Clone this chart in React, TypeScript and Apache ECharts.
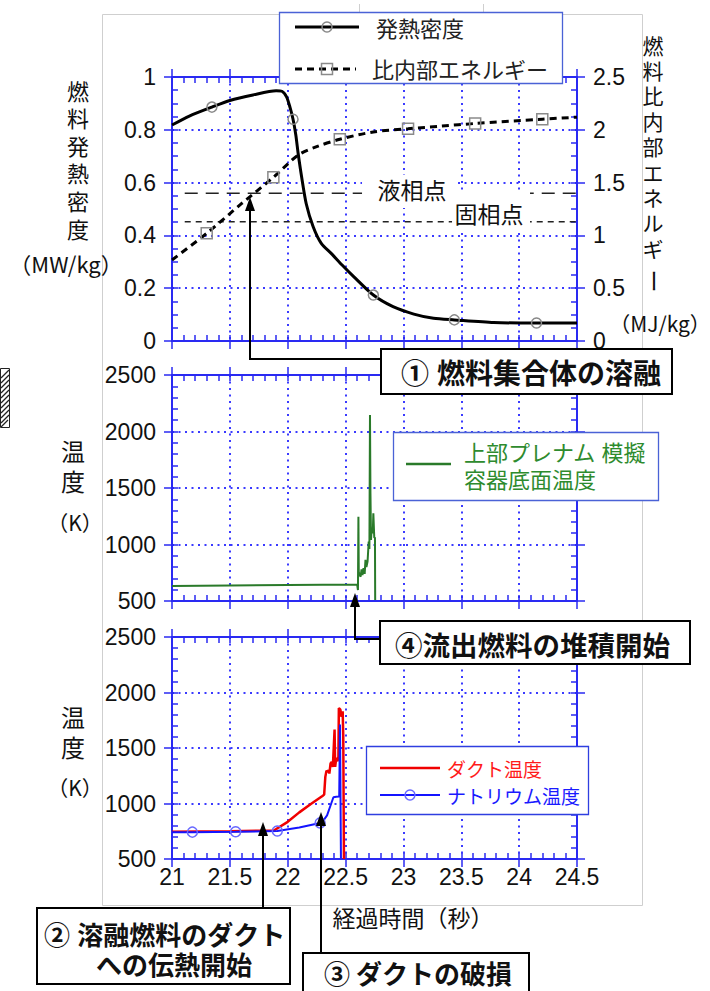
import React, { useEffect, useRef } from 'react';
import * as echarts from 'echarts';

// ---- 上段: 燃料発熱密度 (MW/kg) ----
const powerTime = [21.0, 21.15, 21.345, 21.5, 21.7, 21.9, 21.95, 21.99, 22.02, 22.046, 22.07, 22.09, 22.12, 22.16, 22.22, 22.29, 22.38, 22.47, 22.57, 22.74, 22.91, 23.09, 23.26, 23.44, 23.78, 24.15, 24.5];
const powerValue = [0.818, 0.852, 0.886, 0.911, 0.932, 0.948, 0.946, 0.925, 0.885, 0.84, 0.78, 0.711, 0.622, 0.52, 0.433, 0.37, 0.33, 0.288, 0.244, 0.174, 0.13, 0.102, 0.086, 0.08, 0.07, 0.068, 0.068];
const powerMarkerTime = [21.345, 22.046, 22.74, 23.44, 24.15];

// ---- 上段: 燃料比内部エネルギー (MJ/kg) ----
const energyTime = [21.0, 21.3, 21.6, 21.876, 22.09, 22.25, 22.45, 22.74, 23.04, 23.33, 23.62, 24.2, 24.5];
const energyValue = [0.767, 1.02, 1.3, 1.55, 1.76, 1.84, 1.91, 1.98, 2.01, 2.035, 2.06, 2.1, 2.12];
const energyMarkerTime = [21.3, 21.876, 22.45, 23.04, 23.62, 24.2];

// 液相点・固相点 (MJ/kg)
const liquidusEnergy = 1.4;
const solidusEnergy = 1.13;
const phaseLineTime = [21.11, 24.5];

// ---- 中段: 上部プレナム模擬容器底面温度 (K) ----
const plenumTime = [21.0, 21.5, 22.0, 22.6, 22.607, 22.611, 22.614, 22.62, 22.63, 22.638, 22.646, 22.655, 22.665, 22.672, 22.68, 22.69, 22.7, 22.706, 22.711, 22.715, 22.72, 22.726, 22.735, 22.74, 22.748, 22.754, 22.756];
const plenumValue = [633, 637, 641, 646, 597, 1246, 760, 735, 715, 780, 730, 790, 740, 865, 800, 850, 1025, 960, 2146, 1453, 1040, 1150, 1100, 1276, 1060, 1062, 509];

// ---- 下段: ダクト温度 / ナトリウム温度 (K) ----
const ductTime = [21.0, 21.5, 21.88, 22.0, 22.1, 22.2, 22.3, 22.315, 22.325, 22.335, 22.345, 22.355, 22.36, 22.37, 22.38, 22.39, 22.405, 22.41, 22.42, 22.43, 22.438, 22.442, 22.455, 22.465, 22.475, 22.48, 22.486];
const ductValue = [745, 750, 757, 835, 920, 995, 1068, 1080, 1240, 1295, 1285, 1300, 1270, 1360, 1375, 1330, 1667, 1330, 1414, 1380, 1420, 1860, 1845, 1780, 1830, 1600, 500];
const sodiumTime = [21.0, 21.176, 21.55, 21.91, 22.1, 22.28, 22.3, 22.34, 22.37, 22.395, 22.42, 22.445, 22.452, 22.46];
const sodiumValue = [740, 742, 745, 752, 783, 825, 835, 893, 982, 1056, 1060, 1063, 1712, 506];
const sodiumMarkerTime = [21.176, 21.55, 21.91, 22.28];

// axis ranges / ticks
const timeRange = { min: 21, max: 24.5, major: 0.5, minor: 0.1 };
const powerRange = { min: 0, max: 1, major: 0.2, minor: 0.05 };
const energyRange = { min: 0, max: 2.5, major: 0.5, minor: 0.125 };
const tempRange = { min: 500, max: 2500, major: 500, minor: 100 };

const AXIS_BLUE = '#2a2af2';
const GRID_BLUE = '#3a3aff';
const BOX_BLUE = '#4a62d6';
const JP = '"Noto Sans CJK JP", "Noto Sans", sans-serif';
// compact line metrics for stacked / multi-line Japanese text (kana & kanji still come from Noto Sans CJK JP)
const JP_TIGHT = '"Liberation Sans", "Noto Sans CJK JP", sans-serif';
const NUM = '"Liberation Sans", Arial, sans-serif';

const tickLabel = {
  fontFamily: NUM,
  fontSize: 23,
  color: '#111',
  formatter: (v: number) => String(v),
};

type Range = { min: number; max: number; major: number; minor: number };

function majorAxis(gridIndex: number, position: string, r: Range, label: any, split: boolean) {
  return {
    type: 'value',
    gridIndex,
    position,
    min: r.min,
    max: r.max,
    interval: r.major,
    axisLine: { show: true, onZero: false, lineStyle: { color: AXIS_BLUE, width: 2 } },
    axisTick: { show: true, inside: false, length: 8, lineStyle: { color: AXIS_BLUE, width: 1.5 } },
    axisLabel: label ? { show: true, ...tickLabel, ...label } : { show: false },
    splitLine: { show: split, lineStyle: { color: GRID_BLUE, width: 2, type: [2, 4.5] } },
  };
}

function minorAxis(gridIndex: number, position: string, r: Range) {
  return {
    type: 'value',
    gridIndex,
    position,
    min: r.min,
    max: r.max,
    interval: r.minor,
    axisLine: { show: false, onZero: false },
    axisTick: { show: true, inside: true, length: 6, lineStyle: { color: AXIS_BLUE, width: 1.5 } },
    axisLabel: { show: false },
    splitLine: { show: false },
  };
}

function toData(ts: number[], vs: number[], marked?: number[]) {
  return ts.map((t, i) =>
    marked && marked.includes(t) ? { value: [t, vs[i]] } : { value: [t, vs[i]], symbol: 'none' }
  );
}

function buildOption() {
  const grids = [
    { left: 172, top: 77, width: 405, height: 264 },
    { left: 172, top: 375, width: 405, height: 226 },
    { left: 172, top: 637, width: 405, height: 222 },
  ];
  const leftRanges = [powerRange, tempRange, tempRange];
  const rightRanges = [energyRange, tempRange, tempRange];

  const xAxis: any[] = [];
  const yAxis: any[] = [];
  grids.forEach((_, g) => {
    xAxis.push(majorAxis(g, 'bottom', timeRange, g === 2 ? { margin: 6 } : null, true));
    xAxis.push(minorAxis(g, 'bottom', timeRange));
    xAxis.push(majorAxis(g, 'top', timeRange, null, false));
    xAxis.push(minorAxis(g, 'top', timeRange));
    yAxis.push(majorAxis(g, 'left', leftRanges[g], { margin: 16 }, true));
    yAxis.push(minorAxis(g, 'left', leftRanges[g]));
    yAxis.push(majorAxis(g, 'right', rightRanges[g], g === 0 ? { margin: 16 } : null, false));
    yAxis.push(minorAxis(g, 'right', rightRanges[g]));
  });

  const hollow = (color: string) => ({ color: 'rgba(0,0,0,0)', borderColor: color, borderWidth: 1.5 });
  const phaseLabel = (text: string, coord: number[], size: number[], offset: number[]) => ({
    coord,
    symbol: 'rect',
    symbolSize: size,
    itemStyle: { color: '#ffffff' },
    label: {
      show: true,
      position: 'inside',
      formatter: text,
      fontFamily: JP,
      fontSize: 23,
      color: '#111',
      offset,
    },
  });

  const series: any[] = [
    {
      name: '発熱密度',
      type: 'line',
      xAxisIndex: 0,
      yAxisIndex: 0,
      data: toData(powerTime, powerValue, powerMarkerTime),
      smooth: 0.25,
      symbol: 'circle',
      symbolSize: 10,
      showAllSymbol: true,
      lineStyle: { color: '#000', width: 3 },
      itemStyle: hollow('#8a8a8a'),
      z: 4,
    },
    {
      name: '比内部エネルギー',
      type: 'line',
      xAxisIndex: 0,
      yAxisIndex: 2,
      data: toData(energyTime, energyValue, energyMarkerTime),
      smooth: 0.3,
      symbol: 'rect',
      symbolSize: 11,
      showAllSymbol: true,
      lineStyle: { color: '#000', width: 3, type: [7, 5] },
      itemStyle: hollow('#8a8a8a'),
      z: 4,
    },
    {
      name: '液相点',
      type: 'line',
      xAxisIndex: 0,
      yAxisIndex: 2,
      data: phaseLineTime.map((t) => [t, liquidusEnergy]),
      symbol: 'none',
      lineStyle: { color: '#222', width: 1.5, type: [13, 8] },
      markPoint: {
        silent: true,
        z: 6,
        data: [phaseLabel('液相点', [23.057, 1.416], [96, 33], [2, -2])],
      },
      z: 3,
    },
    {
      name: '固相点',
      type: 'line',
      xAxisIndex: 0,
      yAxisIndex: 2,
      data: phaseLineTime.map((t) => [t, solidusEnergy]),
      symbol: 'none',
      lineStyle: { color: '#222', width: 1.5, type: [6, 5] },
      markPoint: {
        silent: true,
        z: 6,
        data: [phaseLabel('固相点', [23.757, 1.217], [78, 41], [-2, 1])],
      },
      z: 3,
    },
    {
      name: '上部プレナム模擬容器底面温度',
      type: 'line',
      xAxisIndex: 4,
      yAxisIndex: 4,
      data: plenumTime.map((t, i) => [t, plenumValue[i]]),
      symbol: 'none',
      lineStyle: { color: '#2a7a2a', width: 2 },
      z: 3,
    },
    {
      name: 'ダクト温度',
      type: 'line',
      xAxisIndex: 8,
      yAxisIndex: 8,
      data: ductTime.map((t, i) => [t, ductValue[i]]),
      symbol: 'none',
      lineStyle: { color: '#f00000', width: 2.5 },
      z: 3,
    },
    {
      name: 'ナトリウム温度',
      type: 'line',
      xAxisIndex: 8,
      yAxisIndex: 8,
      data: toData(sodiumTime, sodiumValue, sodiumMarkerTime),
      symbol: 'circle',
      symbolSize: 10,
      showAllSymbol: true,
      lineStyle: { color: '#1414ff', width: 2 },
      itemStyle: hollow('#6a6aff'),
      z: 4,
    },
  ];

  const txt = (text: string, x: number, y: number, o: any = {}) => ({
    type: 'text',
    x,
    y,
    z: 120,
    silent: true,
    rotation: o.rotation || 0,
    style: {
      text,
      fill: o.color || '#111',
      fontFamily: o.family || JP,
      fontSize: o.size || 22,
      fontWeight: o.bold ? 'bold' : 'normal',
      align: o.align || 'left',
      verticalAlign: 'middle',
      lineHeight: o.lineHeight,
    },
  });
  // vertical title: one text element per character, stacked
  const vtext = (chars: string, x: number, y0: number, pitch: number, size: number) =>
    Array.from(chars).map((c, i) => txt(c, x, y0 + i * pitch, { size, align: 'center', family: JP_TIGHT }));
  const box = (x: number, y: number, w: number, h: number, stroke: string, lw: number) => ({
    type: 'rect',
    z: 110,
    silent: true,
    shape: { x, y, width: w, height: h },
    style: { fill: '#ffffff', stroke, lineWidth: lw },
  });
  const seg = (pts: number[][], stroke: string, lw: number, dash?: number[]) => ({
    type: 'polyline',
    z: 115,
    silent: true,
    shape: { points: pts },
    style: { stroke, lineWidth: lw, fill: 'none', lineDash: dash },
  });
  const head = (x: number, tipY: number) => ({
    type: 'polygon',
    z: 116,
    silent: true,
    shape: { points: [[x, tipY], [x - 5, tipY + 14], [x + 5, tipY + 14]] },
    style: { fill: '#000' },
  });
  const marker = (kind: string, x: number, y: number, stroke: string) =>
    kind === 'circle'
      ? { type: 'circle', z: 116, silent: true, shape: { cx: x, cy: y, r: 5 }, style: { fill: 'none', stroke, lineWidth: 1.5 } }
      : { type: 'rect', z: 116, silent: true, shape: { x: x - 5.5, y: y - 5.5, width: 11, height: 11 }, style: { fill: 'none', stroke, lineWidth: 1.5 } };

  // hatched strip at the left edge
  const hatch: any[] = [
    { type: 'rect', z: 100, silent: true, shape: { x: 0.5, y: 368.5, width: 9, height: 59 }, style: { fill: '#fff', stroke: '#222', lineWidth: 1 } },
  ];
  for (let y = 370; y <= 422; y += 5) {
    const y2 = Math.min(y + 8, 427);
    hatch.push({
      type: 'line',
      z: 101,
      silent: true,
      shape: { x1: 1, y1: y2, x2: 1 + (y2 - y), y2: y },
      style: { stroke: '#222', lineWidth: 1.2 },
    });
  }

  const graphic: any[] = [
    // outer frame
    { type: 'rect', z: 0, silent: true, shape: { x: 102.5, y: 14.5, width: 540, height: 891 }, style: { fill: 'none', stroke: '#cfcfcf', lineWidth: 1 } },
    { type: 'line', z: 0, silent: true, shape: { x1: 359.5, y1: 4, x2: 359.5, y2: 14 }, style: { stroke: '#cfcfcf', lineWidth: 1 } },
    { type: 'line', z: 0, silent: true, shape: { x1: 483.5, y1: 4, x2: 483.5, y2: 14 }, style: { stroke: '#cfcfcf', lineWidth: 1 } },
    ...hatch,

    // legend (top)
    box(279.5, 12.5, 283, 71, BOX_BLUE, 1.3),
    seg([[295, 27], [359, 27]], '#000', 3),
    marker('circle', 327, 27, '#8a8a8a'),
    txt('発熱密度', 376, 27, { size: 22, color: '#222' }),
    seg([[295, 69], [356, 69]], '#000', 3, [7, 5]),
    marker('rect', 327, 69, '#8a8a8a'),
    txt('比内部エネルギー', 372, 68, { size: 22, color: '#222' }),

    // legend (middle)
    box(393.5, 432.5, 265, 68, BOX_BLUE, 1.3),
    seg([[406, 464], [451, 464]], '#2a7a2a', 2.5),
    txt('上部プレナム 模擬', 464, 453, { size: 22, color: '#2e8b2e', family: JP_TIGHT }),
    txt('容器底面温度', 464, 480, { size: 22, color: '#2e8b2e', family: JP_TIGHT }),

    // legend (bottom)
    box(366.5, 746.5, 222, 68, '#2f3fe0', 1.3),
    seg([[380, 768], [440, 768]], '#f00000', 2.5),
    txt('ダクト温度', 447, 768, { size: 19, color: '#ff1a1a' }),
    seg([[380, 795], [440, 795]], '#1414ff', 2),
    marker('circle', 410, 795, '#6a6aff'),
    txt('ナトリウム温度', 447, 795, { size: 19, color: '#1a1aff' }),

    // axis titles
    ...vtext('燃料発熱密度', 78, 92, 27.6, 22),
    txt('（MW/kg）', 66, 263, { size: 22, align: 'center' }),
    ...vtext('燃料比内部エネルギ', 653, 46, 25.4, 21),
    txt('ー', 653, 281, { size: 23, align: 'center', rotation: -Math.PI / 2, family: JP_TIGHT }),
    txt('（MJ/kg）', 660, 323, { size: 21, align: 'center' }),
    ...vtext('温度', 73, 452, 30, 24),
    txt('（K）', 75, 522, { size: 21, align: 'center' }),
    ...vtext('温度', 73, 718, 30, 24),
    txt('（K）', 75, 787, { size: 21, align: 'center' }),
    txt('経過時間（秒）', 413, 917, { size: 23, align: 'center' }),

    // ① 燃料集合体の溶融
    seg([[381, 359], [250, 359], [250, 210]], '#000', 2),
    head(250, 197),
    box(381, 349, 291, 45, '#000', 2),
    txt('①', 401, 372, { size: 28, bold: true }),
    txt('燃料集合体の溶融', 437, 372, { size: 28, bold: true }),

    // ④ 流出燃料の堆積開始
    seg([[380, 639], [355, 639], [355, 606]], '#000', 2),
    head(355, 593),
    box(380, 621, 310, 43, '#000', 2),
    txt('④流出燃料の堆積開始', 395, 644, { size: 27.5, bold: true }),

    // ② 溶融燃料のダクトへの伝熱開始
    seg([[263, 908], [263, 835]], '#000', 2),
    head(263, 822),
    box(37, 908, 253, 76, '#000', 2),
    txt('② 溶融燃料のダクト', 44, 936, { size: 26, bold: true, family: JP_TIGHT }),
    txt('への伝熱開始', 96, 966, { size: 26, bold: true, family: JP_TIGHT }),

    // ③ ダクトの破損
    seg([[321, 953], [321, 825]], '#000', 2),
    head(321, 812),
    box(303, 953, 226, 45, '#000', 2),
    txt('③ ダクトの破損', 324, 972, { size: 26, bold: true }),
  ];

  return {
    animation: false,
    backgroundColor: '#ffffff',
    grid: grids,
    xAxis,
    yAxis,
    series,
    graphic,
  };
}

export default function App() {
  const ref = useRef<HTMLDivElement>(null);
  useEffect(() => {
    if (!ref.current) return;
    document.body.style.margin = '0';
    const chart = echarts.init(ref.current, undefined, { renderer: 'svg' });
    chart.setOption(buildOption() as any);
    return () => chart.dispose();
  }, []);
  return (
    <div
      ref={ref}
      style={{ position: 'absolute', left: 0, top: 0, width: 710, height: 991, background: '#fff' }}
    />
  );
}
